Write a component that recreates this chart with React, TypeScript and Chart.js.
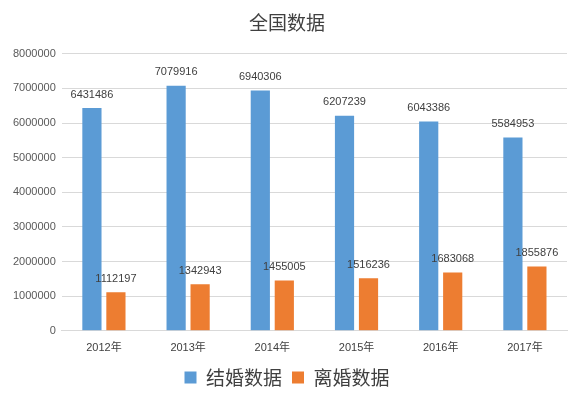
import { Chart, registerables } from "chart.js";
import { useEffect, useRef } from "react";
Chart.register(...registerables);

const years = ["2012年", "2013年", "2014年", "2015年", "2016年", "2017年"];
const marriage = [6431486, 7079916, 6940306, 6207239, 6043386, 5584953];
const divorce = [1112197, 1342943, 1455005, 1516236, 1683068, 1855876];

const valueLabels = {
  id: "valueLabels",
  afterDatasetsDraw(chart: Chart) {
    const ctx = chart.ctx;
    ctx.save();
    ctx.font = "11px 'Liberation Sans', Arial, sans-serif";
    ctx.fillStyle = "#404040";
    ctx.textAlign = "center";
    ctx.textBaseline = "bottom";
    chart.data.datasets.forEach((ds, i) => {
      const meta = chart.getDatasetMeta(i);
      meta.data.forEach((el: any, j) => {
        ctx.fillText(String(ds.data[j]), el.x, el.y - 8);
      });
    });
    ctx.restore();
  },
};

function App() {
  const chartRef = useRef<HTMLCanvasElement | null>(null);
  const chartInstance = useRef<Chart | null>(null);

  useEffect(() => {
    document.body.style.margin = "0";
    const ctx = chartRef.current?.getContext("2d");
    if (chartInstance.current) {
      chartInstance.current.destroy();
    }
    if (ctx) {
      chartInstance.current = new Chart(ctx, {
        type: "bar",
        data: {
          labels: years,
          datasets: [
            {
              label: "结婚数据",
              data: marriage,
              backgroundColor: "#5B9BD5",
            },
            {
              label: "离婚数据",
              data: divorce,
              backgroundColor: "#ED7D31",
            },
          ],
        },
        options: {
          responsive: false,
          animation: false,
          layout: { padding: { left: 7, right: 13, top: 0, bottom: 8 } },
          datasets: {
            bar: { categoryPercentage: 0.57, barPercentage: 0.8 },
          },
          plugins: {
            title: {
              display: true,
              text: "全国数据",
              color: "#404040",
              font: { size: 19, family: "'Noto Sans CJK SC', sans-serif", weight: "normal" },
              padding: { top: 11, bottom: 20 },
            },
            legend: {
              position: "bottom",
              labels: {
                boxWidth: 12,
                boxHeight: 12,
                color: "#404040",
                padding: 10,
                font: { size: 19, family: "'Noto Sans CJK SC', sans-serif" },
              },
            },
            tooltip: { enabled: false },
          },
          scales: {
            x: {
              grid: { display: false },
              border: { color: "#d9d9d9" },
              ticks: {
                color: "#404040",
                font: { size: 11, family: "'Liberation Sans', 'Noto Sans CJK SC', sans-serif" },
              },
            },
            y: {
              min: 0,
              max: 8000000,
              ticks: {
                stepSize: 1000000,
                color: "#595959",
                padding: 6,
                font: { size: 11, family: "'Liberation Sans', Arial, sans-serif" },
                callback: (v) => String(v),
              },
              grid: { color: "#d9d9d9", drawTicks: false },
              border: { display: false },
            },
          },
        },
        plugins: [valueLabels],
      });
    }
    return () => {
      if (chartInstance.current) {
        chartInstance.current.destroy();
      }
    };
  }, []);

  return <canvas ref={chartRef} width={580} height={405} />;
}

export default App;
